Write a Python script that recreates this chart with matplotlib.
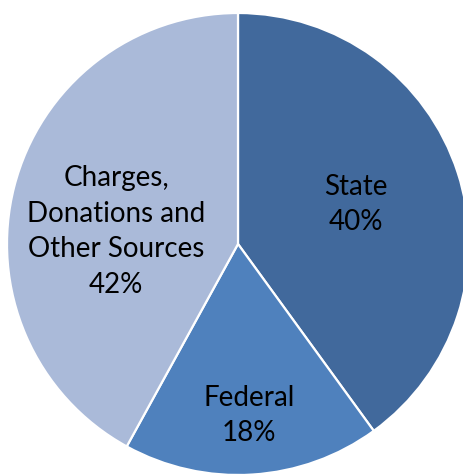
import numpy as np
import matplotlib.pyplot as plt

labels = ["State", "Federal", "Charges,\nDonations and\nOther Sources"]
shares = [40, 18, 42]
colors = ["#41699c", "#4f81bd", "#aabad9"]

W, H = 463, 477
cx, cy, r = 238, H - 245, 231

fig = plt.figure(figsize=(W / 100, H / 100), dpi=100)
ax = fig.add_axes([0, 0, 1, 1])
ax.set_xlim(0, W)
ax.set_ylim(0, H)
ax.axis("off")

wedges, _ = ax.pie(shares, colors=colors, startangle=90, counterclock=False,
                   center=(cx, cy), radius=r,
                   wedgeprops=dict(edgecolor="white", linewidth=1.6))
ax.set_xlim(0, W)
ax.set_ylim(0, H)
ax.set_aspect("equal")

# label placement: (fraction of radius, angle nudge in degrees)
place = [(0.54, 1), (0.74, 0), (0.53, 8)]
for w, lab, pct, (d, nudge) in zip(wedges, labels, shares, place):
    ang = np.deg2rad((w.theta1 + w.theta2) / 2 + nudge)
    x = cx + d * r * np.cos(ang)
    y = cy + d * r * np.sin(ang)
    ax.text(x, y, f"{lab}\n{pct}%", ha="center", va="center",
            fontsize=20, family="Lato", linespacing=1.45, color="black")

fig.savefig("out.png", dpi=100)
